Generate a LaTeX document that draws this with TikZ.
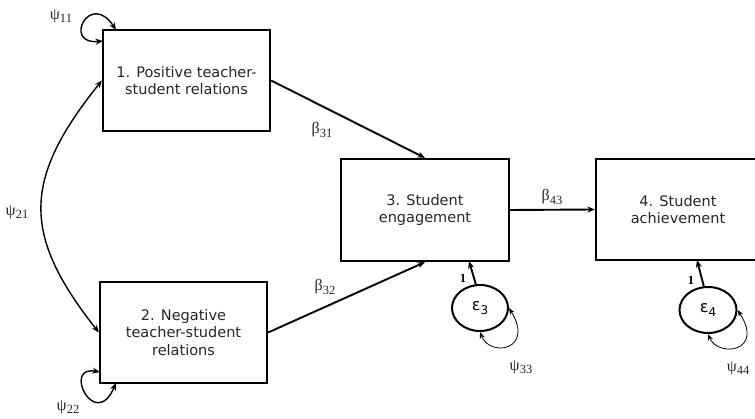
\documentclass[tikz,border=0pt]{standalone}
\usepackage{fontspec}
\setmainfont{DejaVu Sans}
\newfontfamily\grk{Liberation Serif}
\usetikzlibrary{arrows.meta,shapes.geometric}
\newcommand{\gsym}[2]{{\grk\fontsize{16}{17}\selectfont #1\raisebox{-0.45ex}{\fontsize{12.5}{13}\selectfont #2}}}
\newcommand{\esym}[1]{{\fontsize{16}{17}\selectfont ε\raisebox{-0.4ex}{\fontsize{12}{13}\selectfont #1}}}
\begin{document}
\begin{tikzpicture}[x=1pt,y=-1pt,
  box/.style={draw, line width=2.2pt, align=center, inner sep=0pt,
    font=\fontsize{14.5}{17.5}\selectfont, text=black!85},
  err/.style={draw, ellipse, line width=2pt, inner sep=0pt, minimum width=56pt, minimum height=46pt},
  arr/.style={line width=1.9pt, -{Stealth[length=7.5pt,width=6pt]}},
  cov/.style={line width=1.4pt, {Stealth[length=7.5pt,width=6pt]}-{Stealth[length=7.5pt,width=6pt]}},
  var/.style={line width=0.8pt, {Stealth[length=6.5pt,width=5pt]}-{Stealth[length=6.5pt,width=5pt]}},
  lab/.style={inner sep=0pt, text=black!85},
  one/.style={inner sep=0pt, font=\grk\bfseries\fontsize{12.5}{13}\selectfont}]
\useasboundingbox (0,0) rectangle (755,419);
\clip (0,0) rectangle (755,419);

\node[box, minimum width=167pt, minimum height=101pt] (b1) at (186.5,80.5) {1. Positive teacher-\\student relations};
\node[box, minimum width=167pt, minimum height=101pt] (b2) at (183.5,332.5) {2. Negative\\teacher-student\\relations};
\node[box, minimum width=168pt, minimum height=102pt] (b3) at (425,210) {3. Student\\engagement};
\node[box, minimum width=164pt, minimum height=101pt] (b4) at (678,209.5) {4. Student\\achievement};

\node[err] (e3) at (480,308) {\esym{3}};
\node[err, minimum width=57pt] (e4) at (708,310) {\esym{4}};

% structural paths
\draw[arr] (b1.east) -- (b3.north);
\draw[arr] (b2.east) -- (b3.south);
\draw[arr] (b3.east) -- (b4.west);

\coordinate (t3) at (469,261);
\coordinate (t4) at (697,260);
\draw[arr] (e3.100) -- (t3);
\draw[arr] (e4.100) -- (t4);
\node[one] (o3) at (463,278) {1};
\node[one] (o4) at (691,280) {1};

% covariance
\draw[cov] (b1.west) .. controls (22,180) and (22,235) .. (b2.west);

% variances of exogenous
\coordinate (p11a) at (103,41);
\coordinate (p11b) at (116,30);
\draw[cov] (p11a) .. controls (62,45) and (90,-10) .. (p11b);
\coordinate (p22a) at (100,372);
\coordinate (p22b) at (116,383);
\draw[cov] (p22a) .. controls (62,365) and (95,432) .. (p22b);

% residual variances
\draw[var] (e3.south) .. controls (490,358) and (535,350) .. (e3.east);
\draw[var] (e4.south) .. controls (718,358) and (765,352) .. (e4.east);

% labels
\node[lab] (l11) at (61,16) {\gsym{ψ}{11}};
\node[lab] (l22) at (68,407) {\gsym{ψ}{22}};
\node[lab] (l21) at (17,212) {\gsym{ψ}{21}};
\node[lab] (l33) at (521,367) {\gsym{ψ}{33}};
\node[lab] (l44) at (738,368) {\gsym{ψ}{44}};
\node[lab] (l31) at (322,130) {\gsym{β}{31}};
\node[lab] (l32) at (325,287) {\gsym{β}{32}};
\node[lab] (l43) at (552,197) {\gsym{β}{43}};
\end{tikzpicture}
\end{document}
